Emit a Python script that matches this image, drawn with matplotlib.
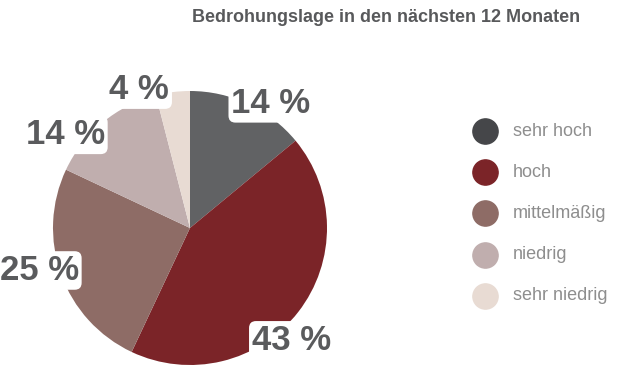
import matplotlib.pyplot as plt

# Daten
kategorien = ["sehr hoch", "hoch", "mittelmäßig", "niedrig", "sehr niedrig"]
anteile = [14, 43, 25, 14, 4]
labels = ["14 %", "43 %", "25 %", "14 %", "4 %"]
farben_pie = ["#616264", "#7b2428", "#8e6c66", "#c0aeae", "#e8dbd3"]
farben_legende = ["#454649", "#7b2428", "#8e6c66", "#c0aeae", "#e8dbd3"]
titel = "Bedrohungslage in den nächsten 12 Monaten"

# Label-Position relativ zum Kreismittelpunkt (in Radien)
label_pos = [(0.59, 0.91), (0.74, -0.82), (-1.10, -0.31), (-0.91, 0.68), (-0.37, 1.01)]

fig = plt.figure(figsize=(6.4, 3.66), dpi=100)
ax = fig.add_axes([0, 0, 1, 1])

cx, cy, r = 190, 138, 137
ax.pie(anteile, colors=farben_pie, startangle=90, counterclock=False,
       center=(cx, cy), radius=r, wedgeprops=dict(linewidth=0))

for lab, (dx, dy) in zip(labels, label_pos):
    ax.text(cx + dx * r, cy + dy * r, lab, ha="center", va="center",
            fontsize=25, fontweight="bold", color="#5a5b5d",
            family=["Liberation Sans", "DejaVu Sans"],
            bbox=dict(boxstyle="round,pad=0.08,rounding_size=0.2", fc="white", ec="none"))

# Legende
for i, (kat, col) in enumerate(zip(kategorien, farben_legende)):
    y = 366 - (131 + i * 41.2)
    ax.scatter(485, y, s=330, color=col, zorder=3)
    ax.text(513, y, kat, ha="left", va="center", fontsize=13,
            color="#8e8e8e", family=["Liberation Sans", "DejaVu Sans"])

ax.text(386, 366 - 17, titel, ha="center", va="center", fontsize=13,
        fontweight="bold", color="#58595b", family=["Liberation Sans", "DejaVu Sans"])

ax.set_xlim(0, 640)
ax.set_ylim(0, 366)
ax.set_aspect("equal")
ax.axis("off")

fig.savefig("out.png", dpi=100, facecolor="white")
